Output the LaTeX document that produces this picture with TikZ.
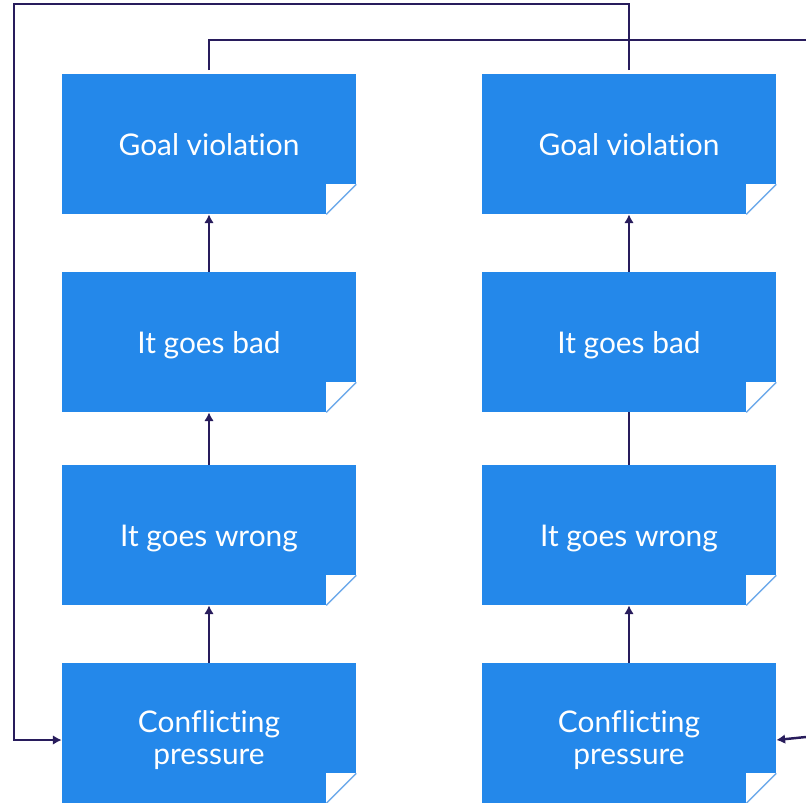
\documentclass[tikz,border=0pt]{standalone}
\usepackage{fontspec}
\setmainfont[Ligatures=NoCommon]{Lato}
\usetikzlibrary{arrows.meta,calc}
\definecolor{noteblue}{RGB}{36,136,234}
\definecolor{foldblue}{RGB}{110,170,235}
\definecolor{linknavy}{RGB}{40,28,92}
\tikzset{
    note/.style  = {rectangle, fill=noteblue, text=white, minimum width=5.88cm,
                    minimum height=2.8cm, align=center, text height=13.6pt, text depth=0pt,
                    font=\fontsize{17}{18.1}\selectfont},
    note2/.style = {note, text height=36.2pt},
    link/.style  = {linknavy, line width=1.4pt},
    tip/.style   = {-{Latex[length=5pt,width=5.5pt]}}
}
\newcommand{\fold}[1]{%
    \fill[white] ($(#1.south east)+(-30,0)$) rectangle ($(#1.south east)+(0,-30)$);
    \draw[foldblue, line width=0.8pt] ($(#1.south east)+(-30,0)$) -- ($(#1.south east)+(0,-30)$);
}
\begin{document}
\begin{tikzpicture}[x = 0.02cm, y = -0.02cm]
            \useasboundingbox (0,0) rectangle (806,803);
            % left column
            \node[note] (goalL) at (209,144) {Goal violation};
            \node[note] (badL) at (209,342) {It goes bad};
            \node[note] (wrongL) at (209,535) {It goes wrong};
            \node[note2] (confL) at (209,733) {Conflicting\\pressure};
            % right column
            \node[note] (goalR) at (629,144) {Goal violation};
            \node[note] (badR) at (629,342) {It goes bad};
            \node[note] (wrongR) at (629,535) {It goes wrong};
            \node[note2] (confR) at (629,733) {Conflicting\\pressure};
            \fold{goalL} \fold{badL} \fold{wrongL} \fold{confL}
            \fold{goalR} \fold{badR} \fold{wrongR} \fold{confR}
            % upward links
            \draw[link, tip] (badL.north) -- (goalL.south);
            \draw[link, tip] (wrongL.north) -- (badL.south);
            \draw[link, tip] (confL.north) -- (wrongL.south);
            \draw[link, tip] (badR.north) -- (goalR.south);
            \draw[link] (wrongR.north) -- (badR.south);
            \draw[link, tip] (confR.north) -- (wrongR.south);
            % loops back
            \coordinate (outR) at (806,40);
            \coordinate (inR) at (806,737);
            \draw[link] ([yshift=2pt]goalL.north) |- (outR);
            \draw[link, tip] ([yshift=2pt]goalR.north) |- (14,4) |- ([yshift=-4]confL.west);
            \draw[link, tip] (inR) -- ([yshift=-4]confR.east);
        \end{tikzpicture}
\end{document}
